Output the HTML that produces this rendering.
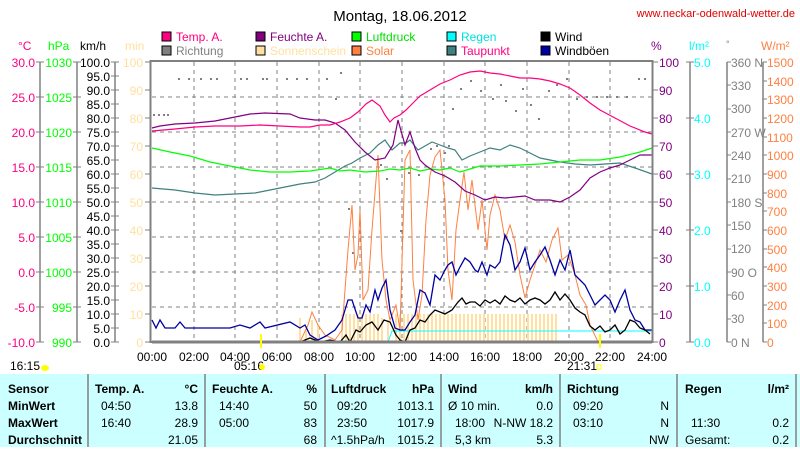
<!DOCTYPE html>
<html><head><meta charset="utf-8"><style>
body{margin:0;background:#fff;width:800px;height:447px;overflow:hidden;font-family:"Liberation Sans",sans-serif}
svg text{font-family:"Liberation Sans",sans-serif;font-size:12px}
</style></head><body>
<svg width="800" height="447" viewBox="0 0 800 447" xmlns="http://www.w3.org/2000/svg">
<rect width="800" height="447" fill="#fff"/>
<text x="400" y="21" text-anchor="middle" style="font-size:15px">Montag, 18.06.2012</text>
<text x="795" y="17" text-anchor="end" fill="#e00000" style="font-size:11px">www.neckar-odenwald-wetter.de</text>
<g style="font-size:12px">
<rect x="162" y="32" width="9" height="9" fill="#ff0080" stroke="#000"/><text x="176" y="41" fill="#ff0080">Temp. A.</text>
<rect x="256" y="32" width="9" height="9" fill="#800080" stroke="#000"/><text x="270" y="41" fill="#800080">Feuchte A.</text>
<rect x="352" y="32" width="9" height="9" fill="#00ff00" stroke="#000"/><text x="366" y="41" fill="#00dd00">Luftdruck</text>
<rect x="447" y="32" width="9" height="9" fill="#00ffff" stroke="#000"/><text x="461" y="41" fill="#00e0e0">Regen</text>
<rect x="541" y="32" width="9" height="9" fill="#000" stroke="#000"/><text x="555" y="41">Wind</text>
<rect x="162" y="46" width="9" height="9" fill="#808080" stroke="#000"/><text x="176" y="55" fill="#808080">Richtung</text>
<rect x="256" y="46" width="9" height="9" fill="#ffe0a0" stroke="#000"/><text x="270" y="55" fill="#ffe0a0">Sonnenschein</text>
<rect x="352" y="46" width="9" height="9" fill="#ff8040" stroke="#000"/><text x="366" y="55" fill="#ff8040">Solar</text>
<rect x="447" y="46" width="9" height="9" fill="#408080" stroke="#000"/><text x="461" y="55" fill="#ff0080">Taupunkt</text>
<rect x="541" y="46" width="9" height="9" fill="#0000a0" stroke="#000"/><text x="555" y="55">Windböen</text>
</g>
<text x="18" y="50" fill="#ff0080">°C</text>
<text x="48" y="50" fill="#00ff00">hPa</text>
<text x="80" y="50">km/h</text>
<text x="125" y="50" fill="#ffe0a0">min</text>
<text x="651" y="50" fill="#800080">%</text>
<text x="689" y="50" fill="#00ffff">l/m²</text>
<text x="726" y="47" fill="#808080" style="font-size:9px">°</text>
<text x="761" y="50" fill="#ff8040">W/m²</text>
<g stroke="#808080" stroke-width="1.5" fill="none">
<line x1="40" y1="62" x2="40" y2="342"/><line x1="77" y1="62" x2="77" y2="342"/>
<line x1="115" y1="62" x2="115" y2="342"/><line x1="690" y1="62" x2="690" y2="342"/>
<line x1="727" y1="62" x2="727" y2="342"/><line x1="763" y1="62" x2="763" y2="342"/>
</g>
<!-- tick marks -->
<g stroke="#808080" stroke-width="1" fill="none">
<path d="M36 62H44M36 97H44M36 132H44M36 167H44M36 202H44M36 237H44M36 272H44M36 307H44M36 342H44"/>
<path d="M73 62H81M73 97H81M73 132H81M73 167H81M73 202H81M73 237H81M73 272H81M73 307H81M73 342H81"/>
<path d="M111 62H119M111 76H119M111 90H119M111 104H119M111 118H119M111 132H119M111 146H119M111 160H119M111 174H119M111 188H119M111 202H119M111 216H119M111 230H119M111 244H119M111 258H119M111 272H119M111 286H119M111 300H119M111 314H119M111 328H119M111 342H119"/>
<path d="M145 62H150M145 90H150M145 118H150M145 146H150M145 174H150M145 202H150M145 230H150M145 258H150M145 286H150M145 314H150M145 342H150"/>
<path d="M653 62H658M653 90H658M653 118H658M653 146H658M653 174H658M653 202H658M653 230H658M653 258H658M653 286H658M653 314H658M653 342H658"/>
<path d="M686 62H694M686 118H694M686 174H694M686 230H694M686 286H694M686 342H694"/>
<path d="M727 62H731M727 85H731M727 109H731M727 132H731M727 155H731M727 179H731M727 202H731M727 225H731M727 249H731M727 272H731M727 295H731M727 319H731M727 342H731"/>
<path d="M763 62H767M763 81H767M763 99H767M763 118H767M763 137H767M763 155H767M763 174H767M763 193H767M763 211H767M763 230H767M763 249H767M763 267H767M763 286H767M763 305H767M763 323H767M763 342H767"/>
</g>
<g stroke="#808080" stroke-dasharray="4,4" stroke-width="1">
<line x1="152" y1="97" x2="652" y2="97"/><line x1="152" y1="132" x2="652" y2="132"/><line x1="152" y1="167" x2="652" y2="167"/><line x1="152" y1="202" x2="652" y2="202"/><line x1="152" y1="237" x2="652" y2="237"/><line x1="152" y1="272" x2="652" y2="272"/><line x1="152" y1="307" x2="652" y2="307"/>
<line x1="194" y1="62" x2="194" y2="342"/><line x1="235" y1="62" x2="235" y2="342"/><line x1="277" y1="62" x2="277" y2="342"/><line x1="319" y1="62" x2="319" y2="342"/><line x1="360" y1="62" x2="360" y2="342"/><line x1="402" y1="62" x2="402" y2="342"/><line x1="444" y1="62" x2="444" y2="342"/><line x1="485" y1="62" x2="485" y2="342"/><line x1="527" y1="62" x2="527" y2="342"/><line x1="569" y1="62" x2="569" y2="342"/><line x1="610" y1="62" x2="610" y2="342"/>
</g>
<g text-anchor="end" fill="#ff0080">
<text x="35" y="67">30.0</text><text x="35" y="102">25.0</text><text x="35" y="137">20.0</text><text x="35" y="172">15.0</text><text x="35" y="207">10.0</text><text x="35" y="242">5.0</text><text x="35" y="277">0.0</text><text x="35" y="312">-5.0</text><text x="35" y="347">-10.0</text>
</g>
<g text-anchor="end" fill="#00ff00">
<text x="72" y="67">1030</text><text x="72" y="102">1025</text><text x="72" y="137">1020</text><text x="72" y="172">1015</text><text x="72" y="207">1010</text><text x="72" y="242">1005</text><text x="72" y="277">1000</text><text x="72" y="312">995</text><text x="72" y="347">990</text>
</g>
<g text-anchor="end">
<text x="110" y="67">100.0</text><text x="110" y="81">95.0</text><text x="110" y="95">90.0</text><text x="110" y="109">85.0</text><text x="110" y="123">80.0</text><text x="110" y="137">75.0</text><text x="110" y="151">70.0</text><text x="110" y="165">65.0</text><text x="110" y="179">60.0</text><text x="110" y="193">55.0</text><text x="110" y="207">50.0</text><text x="110" y="221">45.0</text><text x="110" y="235">40.0</text><text x="110" y="249">35.0</text><text x="110" y="263">30.0</text><text x="110" y="277">25.0</text><text x="110" y="291">20.0</text><text x="110" y="305">15.0</text><text x="110" y="319">10.0</text><text x="110" y="333">5.0</text><text x="110" y="347">0.0</text>
</g>
<g text-anchor="end" fill="#ffe0a0">
<text x="143" y="67">100</text><text x="143" y="95">90</text><text x="143" y="123">80</text><text x="143" y="151">70</text><text x="143" y="179">60</text><text x="143" y="207">50</text><text x="143" y="235">40</text><text x="143" y="263">30</text><text x="143" y="291">20</text><text x="143" y="319">10</text><text x="143" y="347">0</text>
</g>
<g fill="#800080">
<text x="659" y="67">100</text><text x="659" y="95">90</text><text x="659" y="123">80</text><text x="659" y="151">70</text><text x="659" y="179">60</text><text x="659" y="207">50</text><text x="659" y="235">40</text><text x="659" y="263">30</text><text x="659" y="291">20</text><text x="659" y="319">10</text><text x="659" y="347">0</text>
</g>
<g fill="#00ffff">
<text x="694" y="67">5.0</text><text x="694" y="123">4.0</text><text x="694" y="179">3.0</text><text x="694" y="235">2.0</text><text x="694" y="291">1.0</text><text x="694" y="347">0.0</text>
</g>
<g fill="#808080">
<text x="731" y="67">360 N</text><text x="731" y="90">330</text><text x="731" y="113">300</text><text x="731" y="137">270 W</text><text x="731" y="160">240</text><text x="731" y="183">210</text><text x="731" y="207">180 S</text><text x="731" y="230">150</text><text x="731" y="253">120</text><text x="731" y="277">90 O</text><text x="731" y="300">60</text><text x="731" y="323">30</text><text x="731" y="347">0  N</text>
</g>
<g fill="#ff8040">
<text x="767" y="67">1500</text><text x="767" y="86">1400</text><text x="767" y="104">1300</text><text x="767" y="123">1200</text><text x="767" y="142">1100</text><text x="767" y="160">1000</text><text x="767" y="179">900</text><text x="767" y="198">800</text><text x="767" y="216">700</text><text x="767" y="235">600</text><text x="767" y="254">500</text><text x="767" y="272">400</text><text x="767" y="291">300</text><text x="767" y="310">200</text><text x="767" y="328">100</text><text x="767" y="347">0</text>
</g>
<g stroke="#ffe0a0" stroke-width="2">
<path d="M300 342V318M306 342V330M312 342V320M318 342V325M342 342V314M346 342V314M350 342V314M354 342V314M358 342V314M362 342V314M366 342V314M370 342V314M374 342V314M378 342V314M382 342V318M388 342V320M396 342V314M400 342V314M404 342V314M408 342V314M412 342V314M416 342V314M420 342V314M424 342V314M428 342V314M432 342V314M436 342V314M440 342V314M444 342V314M448 342V314M452 342V314M456 342V314M460 342V314M464 342V314M468 342V314M472 342V314M476 342V314M480 342V314M484 342V314M488 342V314M492 342V314M496 342V314M500 342V314M504 342V314M508 342V314M512 342V314M516 342V314M520 342V314M524 342V314M528 342V314M532 342V314M536 342V314M540 342V314M544 342V314M548 342V314M552 342V314M556 342V314"/>
</g>
<polyline points="388,342 392,331 652,331" fill="none" stroke="#00ffff"/>
<g fill="#808080">
<rect x="153" y="114" width="2" height="2"/><rect x="158" y="114" width="2" height="2"/><rect x="163" y="114" width="2" height="2"/><rect x="167" y="114" width="2" height="2"/><rect x="178" y="78" width="2" height="2"/><rect x="188" y="78" width="2" height="2"/><rect x="200" y="78" width="2" height="2"/><rect x="210" y="78" width="2" height="2"/><rect x="216" y="78" width="2" height="2"/><rect x="240" y="78" width="2" height="2"/><rect x="246" y="78" width="2" height="2"/><rect x="262" y="78" width="2" height="2"/><rect x="266" y="78" width="2" height="2"/><rect x="286" y="78" width="2" height="2"/><rect x="296" y="78" width="2" height="2"/><rect x="306" y="78" width="2" height="2"/><rect x="326" y="78" width="2" height="2"/><rect x="335" y="98" width="2" height="2"/><rect x="340" y="72" width="2" height="2"/><rect x="348" y="208" width="2" height="2"/><rect x="352" y="252" width="2" height="2"/><rect x="359" y="222" width="2" height="2"/><rect x="380" y="164" width="2" height="2"/><rect x="386" y="178" width="2" height="2"/><rect x="400" y="230" width="2" height="2"/><rect x="408" y="172" width="2" height="2"/><rect x="418" y="174" width="2" height="2"/><rect x="430" y="148" width="2" height="2"/><rect x="436" y="145" width="2" height="2"/><rect x="444" y="152" width="2" height="2"/><rect x="448" y="145" width="2" height="2"/><rect x="452" y="108" width="2" height="2"/><rect x="460" y="88" width="2" height="2"/><rect x="470" y="80" width="2" height="2"/><rect x="480" y="90" width="2" height="2"/><rect x="492" y="98" width="2" height="2"/><rect x="500" y="84" width="2" height="2"/><rect x="505" y="100" width="2" height="2"/><rect x="515" y="110" width="2" height="2"/><rect x="522" y="88" width="2" height="2"/><rect x="530" y="104" width="2" height="2"/><rect x="538" y="118" width="2" height="2"/><rect x="548" y="90" width="2" height="2"/><rect x="556" y="84" width="2" height="2"/><rect x="566" y="78" width="2" height="2"/><rect x="576" y="98" width="2" height="2"/><rect x="586" y="96" width="2" height="2"/><rect x="596" y="96" width="2" height="2"/><rect x="606" y="96" width="2" height="2"/><rect x="616" y="96" width="2" height="2"/><rect x="626" y="96" width="2" height="2"/><rect x="638" y="78" width="2" height="2"/><rect x="644" y="78" width="2" height="2"/>
</g>
<polyline fill="none" stroke="#ff8040" stroke-width="1" points="152,342 300,342 308,325 312,312 318,325 325,335 335,340 342,330 348,250 352,205 355,270 358,255 360,210 363,300 368,290 372,230 378,155 382,260 386,300 390,320 396,305 400,330 405,160 410,150 413,280 418,320 422,295 426,220 430,175 435,157 440,150 445,200 448,270 452,300 456,230 460,200 464,172 468,210 472,180 478,230 482,200 487,250 490,215 495,195 500,210 505,240 510,225 515,242 520,275 525,298 530,280 535,265 540,250 546,262 552,240 558,228 562,260 568,255 575,275 580,295 586,305 590,325 598,342 652,342"/>
<polyline fill="none" stroke="#0000a0" stroke-width="1.3" points="152,320 156,328 160,320 165,328 175,328 180,322 185,328 230,328 240,325 250,328 260,322 265,328 290,322 300,328 305,325 310,335 318,340 326,336 335,330 342,320 348,300 352,300 358,318 362,318 366,305 370,312 375,290 378,300 382,288 386,280 390,310 395,328 400,330 405,330 410,322 415,315 420,290 425,293 430,305 435,275 440,280 445,270 448,265 452,262 456,275 460,267 465,258 470,262 475,270 478,272 482,262 487,275 490,265 495,268 500,262 505,235 510,245 515,270 520,262 525,248 530,270 535,262 540,255 545,247 550,260 555,275 560,260 565,270 570,250 575,275 580,280 585,285 590,295 595,305 600,300 605,295 610,300 615,312 620,300 625,290 630,310 635,320 640,322 645,330 652,330"/>
<polyline fill="none" stroke="#000" stroke-width="1.3" points="152,342 300,342 310,338 320,342 330,340 340,342 346,335 350,342 356,330 360,332 366,325 372,322 378,330 384,320 390,322 396,335 400,340 405,342 410,330 415,328 420,320 425,322 430,315 435,310 440,312 445,314 452,310 458,302 462,298 466,304 470,302 475,302 480,306 485,300 490,303 495,300 500,304 505,296 510,300 515,302 520,298 525,304 530,300 535,298 540,300 545,304 550,300 555,292 560,300 565,294 570,300 575,308 580,312 585,315 590,326 595,330 600,326 605,332 610,330 615,325 620,334 625,330 630,320 635,322 640,328 645,330 650,334"/>
<polyline fill="none" stroke="#408080" stroke-width="1.2" points="152,188 175,190 195,193 215,195 235,194 255,193 270,190 290,186 300,184 315,182 325,178 335,172 345,166 352,163 360,158 370,153 378,145 385,140 392,150 400,143 406,143 410,140 418,150 425,146 432,142 440,145 448,148 455,150 462,160 470,156 480,152 490,148 500,150 510,145 520,148 530,153 540,158 550,160 560,162 575,164 590,165 605,164 620,163 635,168 652,174"/>
<polyline fill="none" stroke="#00ff00" stroke-width="1.2" points="152,148 170,152 190,156 210,162 230,166 250,170 270,172 290,172 310,171 330,168 340,171 350,170 365,172 380,171 390,169 400,170 410,168 420,171 430,169 440,170 450,168 460,172 470,169 480,166 500,166 520,165 540,164 560,162 580,160 600,160 620,157 640,152 652,148"/>
<polyline fill="none" stroke="#800080" stroke-width="1.2" points="152,128 160,126 175,124 195,123 215,121 235,117 250,114 265,113 290,114 300,118 315,120 325,120 335,123 345,130 355,142 365,152 375,160 385,158 393,145 398,120 405,145 410,132 415,148 420,160 425,165 435,172 445,176 455,182 465,191 475,195 485,200 495,197 505,198 515,197 525,196 535,200 550,200 560,202 570,197 580,190 590,178 600,172 610,168 620,165 630,160 640,155 652,155"/>
<polyline fill="none" stroke="#ff0080" stroke-width="1.2" points="152,131 175,129 195,127 215,126 240,126 260,125 280,126 300,127 310,127 320,125 330,125 340,122 350,118 358,112 366,104 372,100 380,106 385,115 390,122 394,118 400,115 406,110 412,104 420,96 430,90 440,84 450,80 460,75 470,72 480,71 490,73 500,74 510,76 520,78 530,78 540,79 550,81 560,84 570,88 580,95 590,103 600,110 615,118 630,126 645,132 652,134"/>
<rect x="150.5" y="61" width="502" height="281" fill="none" stroke="#808080" stroke-width="2"/>
<line x1="152" y1="342" x2="652" y2="342" stroke="#808080" stroke-width="3"/>
<line x1="261" y1="334" x2="261" y2="348" stroke="#ffff00" stroke-width="2"/>
<line x1="600" y1="334" x2="600" y2="348" stroke="#ffff00" stroke-width="2"/>
<g text-anchor="middle">
<text x="152" y="361">00:00</text><text x="194" y="361">02:00</text><text x="235" y="361">04:00</text><text x="277" y="361">06:00</text><text x="319" y="361">08:00</text><text x="360" y="361">10:00</text><text x="402" y="361">12:00</text><text x="444" y="361">14:00</text><text x="485" y="361">16:00</text><text x="527" y="361">18:00</text><text x="569" y="361">20:00</text><text x="610" y="361">22:00</text><text x="652" y="361">24:00</text>
<text x="249" y="370">05:16</text><text x="582" y="370">21:31</text>
</g>
<circle cx="262" cy="367" r="3" fill="#ffff00"/>
<rect x="597" y="365" width="4" height="4" fill="none" stroke="#ffff00"/>
<text x="10" y="370">16:15</text>
<ellipse cx="45" cy="368" rx="4" ry="3" fill="#ffff00"/>
<rect x="0" y="374" width="800" height="73" fill="#ccffff"/>
<g stroke="#808080" stroke-width="1.5">
<line x1="88" y1="374" x2="88" y2="447"/><line x1="205" y1="374" x2="205" y2="447"/><line x1="325" y1="374" x2="325" y2="447"/><line x1="441" y1="374" x2="441" y2="447"/><line x1="560" y1="374" x2="560" y2="447"/><line x1="677" y1="374" x2="677" y2="447"/><line x1="796" y1="374" x2="796" y2="447"/>
</g>
<g style="font-size:12px">
<g font-weight="bold"><text x="8" y="393">Sensor</text><text x="8" y="410">MinWert</text><text x="8" y="427">MaxWert</text><text x="8" y="444">Durchschnitt</text>
<text x="95" y="393">Temp. A.</text><text x="198" y="393" text-anchor="end">°C</text>
<text x="212" y="393">Feuchte A.</text><text x="317" y="393" text-anchor="end">%</text>
<text x="331" y="393">Luftdruck</text><text x="434" y="393" text-anchor="end">hPa</text>
<text x="448" y="393">Wind</text><text x="553" y="393" text-anchor="end">km/h</text>
<text x="567" y="393">Richtung</text>
<text x="685" y="393">Regen</text><text x="789" y="393" text-anchor="end">l/m²</text></g>
<text x="101" y="410">04:50</text><text x="198" y="410" text-anchor="end">13.8</text>
<text x="101" y="427">16:40</text><text x="198" y="427" text-anchor="end">28.9</text>
<text x="198" y="444" text-anchor="end">21.05</text>
<text x="219" y="410">14:40</text><text x="317" y="410" text-anchor="end">50</text>
<text x="219" y="427">05:00</text><text x="317" y="427" text-anchor="end">83</text>
<text x="317" y="444" text-anchor="end">68</text>
<text x="337" y="410">09:20</text><text x="434" y="410" text-anchor="end">1013.1</text>
<text x="337" y="427">23:50</text><text x="434" y="427" text-anchor="end">1017.9</text>
<text x="331" y="444">^1.5hPa/h</text><text x="434" y="444" text-anchor="end">1015.2</text>
<text x="448" y="410">Ø 10 min.</text><text x="553" y="410" text-anchor="end">0.0</text>
<text x="455" y="427">18:00</text><text x="553" y="427" text-anchor="end">N-NW 18.2</text>
<text x="455" y="444">5,3 km</text><text x="553" y="444" text-anchor="end">5.3</text>
<text x="573" y="410">09:20</text><text x="669" y="410" text-anchor="end">N</text>
<text x="573" y="427">03:10</text><text x="669" y="427" text-anchor="end">N</text>
<text x="669" y="444" text-anchor="end">NW</text>
<text x="691" y="427">11:30</text><text x="789" y="427" text-anchor="end">0.2</text>
<text x="685" y="444">Gesamt:</text><text x="789" y="444" text-anchor="end">0.2</text>
</g>
</svg>
</body></html>
